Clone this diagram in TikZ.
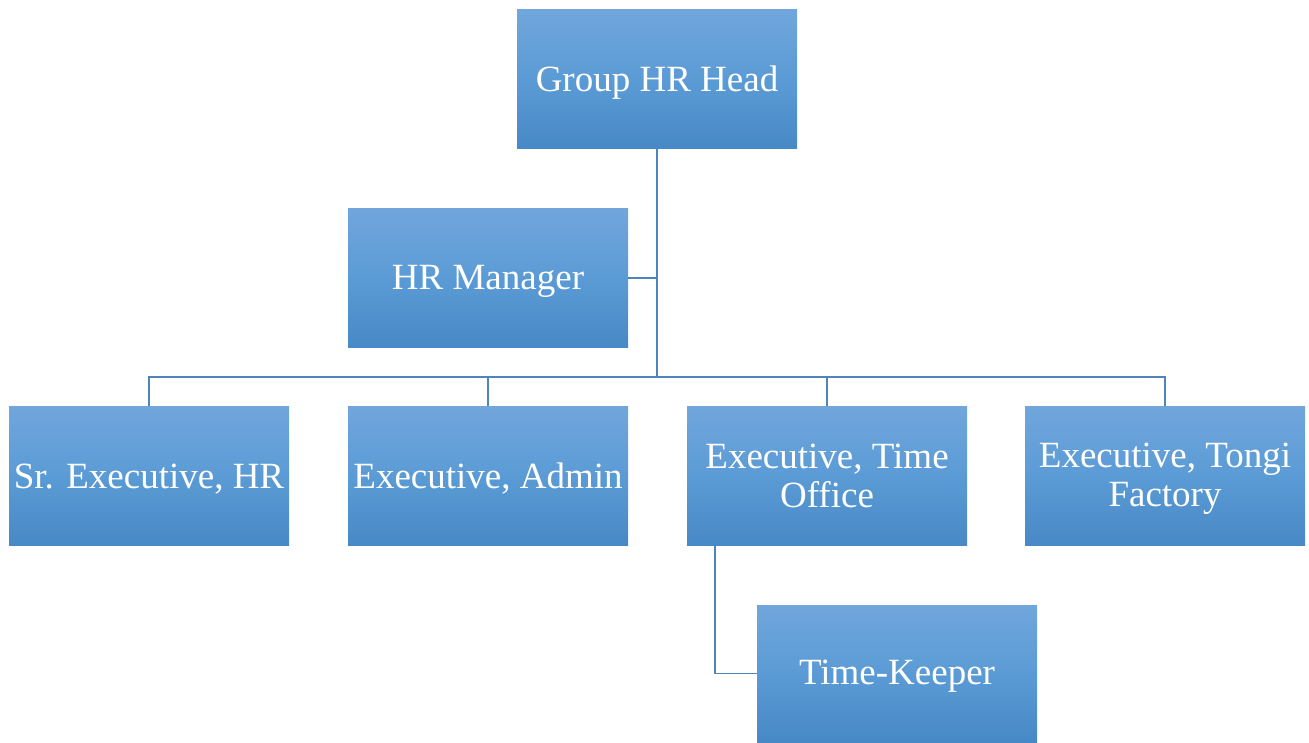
\documentclass[tikz,border=0pt]{standalone}
\usepackage{fontspec}
\setmainfont{Liberation Serif}
\definecolor{boxtop}{HTML}{70A6DC}
\definecolor{boxmid}{HTML}{5B9BD5}
\definecolor{boxbot}{HTML}{4788C6}
\definecolor{linec}{HTML}{4F84BE}
\newcommand{\lowtxt}[1]{\raisebox{-3pt}[\height][\depth]{#1}}
\begin{document}
\begin{tikzpicture}[x=1pt,y=-1pt,
  box/.style={rectangle, minimum width=280pt, minimum height=139pt, inner sep=0pt,
    top color=boxtop, bottom color=boxbot, middle color=boxmid, draw=none,
    text=white, align=center, font=\fontsize{37}{39}\selectfont},
  conn/.style={draw=linec, line width=1.3pt}]
\useasboundingbox (0,0) rectangle (1309,743);
\node[box] (head) at (657,79.5) {\lowtxt{Group HR Head}};
\node[box] (mgr) at (488,278) {\lowtxt{HR Manager}};
\node[box] (sr) at (149,476) {\lowtxt{Sr. Executive, HR}};
\node[box] (adm) at (488,476) {\lowtxt{Executive, Admin}};
\node[box] (tim) at (827,476) {Executive, Time\\Office};
\node[box] (ton) at (1165,476) {\lowtxt{Executive, Tongi}\\\lowtxt{Factory}};
\node[box, minimum height=137pt] (kee) at (897,673.5) {\lowtxt{Time-Keeper}};
\coordinate (hub) at (657,377);
\coordinate (mj) at (657,278);
\draw[conn] (head.south) -- (hub);
\draw[conn] (mgr.east) -- (mj);
\draw[conn] (sr.north) |- (hub);
\draw[conn] (adm.north) |- (hub);
\draw[conn] (tim.north) |- (hub);
\draw[conn] (ton.north) |- (hub);
\draw[conn] (tim.south -| 715,0) |- (kee.west);
\end{tikzpicture}
\end{document}
